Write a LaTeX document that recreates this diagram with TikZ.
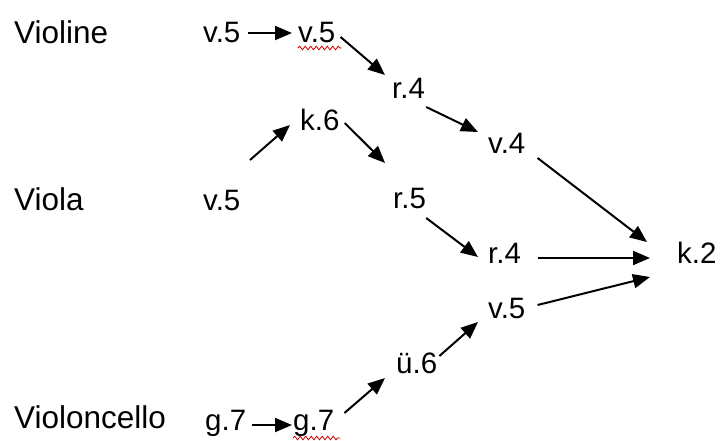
\documentclass[tikz,border=0pt]{standalone}
\usepackage{fontspec}
\setmainfont{Liberation Sans}
\usetikzlibrary{arrows.meta,decorations.pathmorphing}
\begin{document}
\begin{tikzpicture}[x=1pt,y=-1pt,
  lbl/.style={anchor=base west,inner sep=0pt,font=\fontsize{31.5}{36}\selectfont},
  nd/.style={anchor=base west,inner sep=0pt,font=\fontsize{29.5}{34}\selectfont},
  arr/.style={line width=2pt,-{Triangle[length=17pt,width=14pt]}},
  squiggle/.style={red!80!black,line width=0.8pt,decorate,decoration={snake,amplitude=1.8pt,segment length=5.5pt}}]
\useasboundingbox (0,0) rectangle (720,440);
% labels
\node[lbl] (violine) at (14,43) {Violine};
\node[lbl] (viola) at (14,210) {Viola};
\node[lbl] (cello) at (14,428) {Violoncello};
% nodes
\node[nd] (va) at (203,42) {v.5};
\node[nd] (vb) at (298,42) {v.5};
\node[nd] (ra) at (392,98) {r.4};
\node[nd] (vc) at (488,153) {v.4};
\node[nd] (k2) at (677,263) {k.2};
\node[nd] (vd) at (203,210) {v.5};
\node[nd] (k6) at (300,130) {k.6};
\node[nd] (r5) at (393,208) {r.5};
\node[nd] (rb) at (488,263) {r.4};
\node[nd] (ve) at (488,318) {v.5};
\node[nd] (u6) at (396,373) {ü.6};
\node[nd] (ga) at (205,430) {g.7};
\node[nd] (gb) at (293,430) {g.7};
% spell-check squiggles
\draw[squiggle] ([shift={(0,6)}]vb.base west) -- ([shift={(6,6)}]vb.base east);
\draw[squiggle] ([shift={(0,8)}]gb.base west) -- ([shift={(6,8)}]gb.base east);
% connectors
\draw[arr] ([shift={(7,-9)}]va.base east) -- ([shift={(-6,-9)}]vb.base west);
\draw[arr] ([shift={(5,-5)}]vb.base east) -- ([shift={(-7,-23)}]ra.base west);
\draw[arr] ([shift={(1,9)}]ra.base east) -- ([shift={(-10,-21)}]vc.base west);
\draw[arr] ([shift={(12,5)}]vc.base east) -- ([shift={(-30,-21)}]k2.base west);
\draw[arr] ([shift={(47,-50)}]vd.base west) -- ([shift={(-10,-5)}]k6.base west);
\draw[arr] ([shift={(5,-7)}]k6.base east) -- ([shift={(-8,-45)}]r5.base west);
\draw[arr] ([shift={(0,10)}]r5.base east) -- ([shift={(-10,-6)}]rb.base west);
\draw[arr] ([shift={(17,-5)}]rb.base east) -- ([shift={(-27,-5)}]k2.base west);
\draw[arr] ([shift={(12,-13)}]ve.base east) -- ([shift={(-27,14)}]k2.base west);
\draw[arr] ([shift={(6,-5)}]ga.base east) -- ([shift={(-1,-5)}]gb.base west);
\draw[arr] ([shift={(10,-17)}]gb.base east) -- ([shift={(-11,5)}]u6.base west);
\draw[arr] ([shift={(2,-17)}]u6.base east) -- ([shift={(-10,4)}]ve.base west);
\end{tikzpicture}
\end{document}
